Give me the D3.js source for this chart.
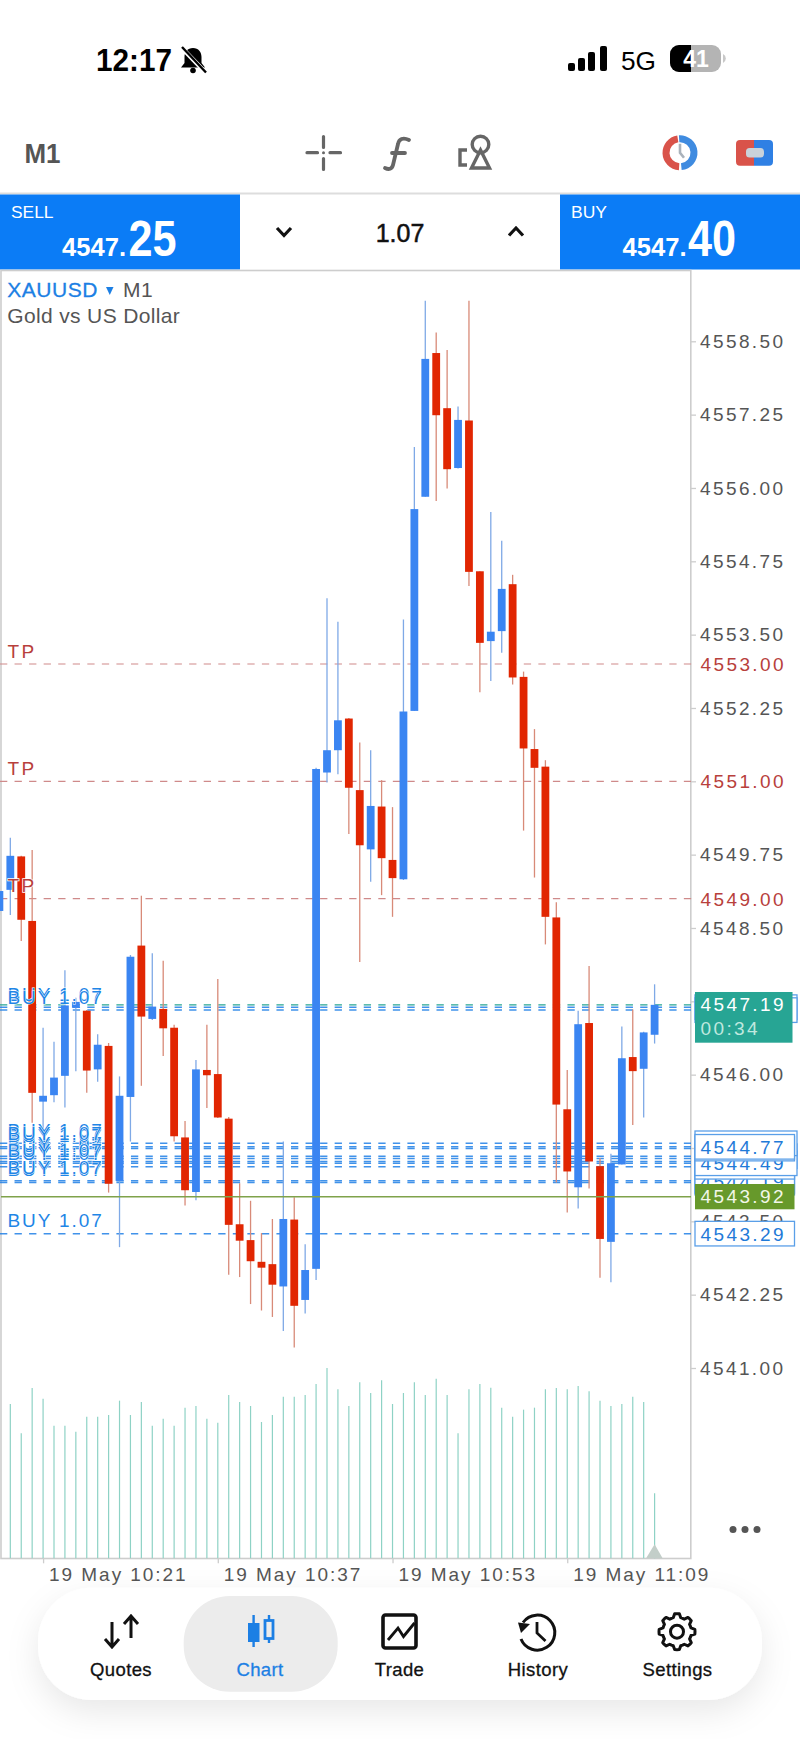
<!DOCTYPE html>
<html>
<head>
<meta charset="utf-8">
<script src="https://cdn.jsdelivr.net/npm/d3@7"></script>
<style>
  html, body { margin: 0; padding: 0; background: #fff; }
  svg { display: block; font-family: "Liberation Sans", Arial, sans-serif; }
</style>
</head>
<body>
<svg width="800" height="1739"></svg>
<script>
// candles, one per minute, 19 May 10:17 -> 11:17
const candleOpen = [
  4548.79,4549.15,4549.72,4548.62,4545.54,4545.65,4545.98,4547.14,4547.09,4546.09,
  4546.49,4544.19,4545.62,4548.20,4546.95,4547.12,4546.80,4544.93,4544.00,4546.08,
  4546.01,4545.25,4543.45,4543.18,4542.81,4542.77,4542.39,4543.53,4542.16,4542.69,
  4551.15,4551.53,4552.07,4550.85,4549.84,4550.57,4549.66,4549.33,4552.20,4555.85,
  4558.30,4557.36,4556.34,4557.15,4554.58,4553.39,4553.56,4554.36,4552.78,4551.55,
  4551.25,4548.68,4545.41,4544.08,4546.88,4544.44,4543.15,4544.47,4546.30,4546.10,
  4546.68];
const candleHigh = [
  4549.23,4550.04,4549.73,4549.83,4546.80,4546.56,4547.78,4547.31,4547.10,4546.69,
  4546.54,4545.97,4548.04,4549.05,4548.07,4547.94,4546.85,4545.21,4546.25,4546.85,
  4547.63,4545.28,4544.15,4543.85,4543.30,4543.54,4544.86,4543.91,4543.11,4551.23,
  4554.12,4553.72,4552.08,4551.66,4551.53,4551.02,4550.56,4553.76,4556.70,4559.19,
  4558.65,4558.35,4557.39,4559.19,4554.58,4555.59,4555.10,4554.52,4552.87,4551.89,
  4551.36,4548.94,4546.08,4547.09,4547.85,4544.58,4544.65,4546.82,4547.11,4546.73,
  4547.54];
const candleLow = [
  4548.72,4548.72,4548.28,4545.18,4545.06,4545.53,4545.44,4546.06,4545.69,4545.88,
  4543.99,4543.06,4544.86,4545.81,4546.93,4546.32,4544.86,4543.77,4543.86,4545.43,
  4545.26,4542.59,4542.55,4542.09,4541.98,4541.87,4541.63,4541.35,4541.93,4542.50,
  4550.98,4551.12,4550.10,4547.92,4549.29,4549.06,4548.69,4549.32,4552.20,4555.85,
  4555.78,4555.99,4556.33,4554.33,4552.52,4552.71,4553.19,4552.65,4550.16,4549.36,
  4548.22,4544.16,4543.65,4543.72,4544.06,4542.54,4542.46,4544.47,4545.14,4545.27,
  4546.53];
const candleClose = [
  4549.13,4549.73,4548.64,4545.69,4545.64,4545.95,4547.18,4547.24,4546.07,4546.51,
  4544.14,4545.64,4548.01,4546.99,4547.16,4546.79,4544.95,4544.03,4546.09,4545.99,
  4545.27,4543.44,4543.17,4542.82,4542.71,4542.42,4543.54,4542.06,4542.67,4551.21,
  4551.53,4552.04,4550.89,4549.91,4550.58,4549.69,4549.35,4552.19,4555.64,4558.20,
  4557.24,4556.32,4557.16,4554.57,4553.36,4553.55,4554.28,4552.77,4551.56,4551.23,
  4548.69,4545.49,4544.35,4546.86,4544.52,4543.20,4544.49,4546.28,4546.06,4546.72,
  4547.19];
const tickVolume = [
  450,463,375,511,479,398,398,380,425,425,
  430,473,430,469,398,419,398,452,457,419,
  407,490,469,457,409,430,485,485,490,523,
  571,507,457,528,496,534,463,496,528,490,
  539,490,375,507,523,512,452,425,446,452,
  507,511,507,517,501,473,457,463,485,469,
  195];

const priceTicks = [4558.5,4557.25,4556,4554.75,4553.5,4552.25,4551,4549.75,4548.5,4547.25,4546,4544.75,4543.5,4542.25,4541];
const timeTickIndex = [4, 20, 36, 52];
const timeTickLabels = ["19 May 10:21", "19 May 10:37", "19 May 10:53", "19 May 11:09"];

const tpLevels = [4553, 4551, 4549];
// open buy orders, the tags get painted in this order
const buyLevels = [4547.15,4547.1,4544.16,4544.19,4544.43,4544.52,4544.57,4544.61,4544.49,4544.83,4544.74,4544.77,4543.29];
const wideTags = [4547.15,4547.1,4544.49,4544.83,4544.61];
const bidPrice = 4547.19, askLine = 4543.92;

const navLabels = ["Quotes", "Chart", "Trade", "History", "Settings"];
const navCenters = [121, 260, 399.5, 538, 677.5];

const svg = d3.select("svg");
const BLUE = "#3a85f2", RED = "#e12602", GREY = "#555", APP = "#0b7cf6", LINK = "#1c7fe4";

const x = d3.scaleLinear().domain([0, 60]).range([-0.6, 654.6]);
const y = d3.scaleLinear().domain([4558.5, 4541]).range([341.3, 1368]);
const vol = d3.scaleLinear().domain([0, 571]).range([1558.3, 1368]);

const txt = (g, s, px, py, size, fill, spacing) => g.append("text")
  .attr("x", px).attr("y", py).attr("font-size", size).attr("fill", fill)
  .style("letter-spacing", spacing ? spacing + "px" : null).text(s);

// ---- status bar
const status = svg.append("g");
txt(status, "12:17", 96, 70.5, 31, "#000").attr("font-weight", 700).attr("textLength", 76).attr("lengthAdjust", "spacingAndGlyphs");
status.append("path").attr("d", "M193 48c-5.5 0-8.5 4-8.5 9v6l-3.5 4.5h24l-3.5-4.5v-6c0-5-3-9-8.5-9z").attr("fill", "#000");
status.append("circle").attr("cx", 193).attr("cy", 70.5).attr("r", 2.8).attr("fill", "#000");
status.append("line").attr("x1", 181).attr("y1", 47).attr("x2", 206).attr("y2", 73).attr("stroke", "#fff").attr("stroke-width", 4.5);
status.append("line").attr("x1", 182).attr("y1", 47).attr("x2", 206).attr("y2", 72.5).attr("stroke", "#000").attr("stroke-width", 2.4);
[[568, 8], [578, 13], [588, 19], [600, 25]].forEach(b => {
  status.append("rect").attr("x", b[0]).attr("y", 71 - b[1]).attr("width", 7).attr("height", b[1]).attr("rx", 2).attr("fill", "#000");
});
txt(status, "5G", 621, 70, 25, "#000").attr("textLength", 35).attr("lengthAdjust", "spacingAndGlyphs");
status.append("rect").attr("x", 670).attr("y", 45).attr("width", 51).attr("height", 27).attr("rx", 9).attr("fill", "#b4b4b4");
status.append("path").attr("d", "M679 45h12v27h-12a9 9 0 0 1-9-9v-9a9 9 0 0 1 9-9z").attr("fill", "#000");
status.append("path").attr("d", "M723 54a5 5 0 0 1 0 9z").attr("fill", "#c8c8c8");
txt(status, "41", 696, 67, 23, "#fff").attr("font-weight", 700).attr("text-anchor", "middle");

// ---- toolbar
const bar = svg.append("g");
txt(bar, "M1", 24.5, 162.5, 28, GREY).attr("font-weight", 700).attr("textLength", 36).attr("lengthAdjust", "spacingAndGlyphs");
const ICON = "#666";
bar.append("path").attr("fill", "none").attr("stroke", ICON).attr("stroke-width", 3.2).attr("stroke-linecap", "round")
  .attr("d", "M323.5 136.5v11M323.5 158.5v11M307 152.7h10.5M330 152.7h10.5");
bar.append("circle").attr("cx", 323.5).attr("cy", 152.7).attr("r", 1.5).attr("fill", ICON);
bar.append("path").attr("fill", "none").attr("stroke", ICON).attr("stroke-width", 3.8).attr("stroke-linecap", "round")
  .attr("d", "M409 140c-6-3-10-1-11 4l-5 21c-1 4-4 5-8 3M392 153h13");
bar.append("circle").attr("cx", 480.5).attr("cy", 144.5).attr("r", 8.3).attr("fill", "none").attr("stroke", ICON).attr("stroke-width", 3.4);
bar.append("path").attr("fill", "none").attr("stroke", ICON).attr("stroke-width", 3.4).attr("d", "M480.5 150l9 18h-18zM467 150h-7v15h7");
const clock = bar.append("g").attr("transform", "translate(680,152.7)");
const ring = d3.arc().innerRadius(10.5).outerRadius(17.5);
clock.append("path").attr("fill", "#d9534a").attr("d", ring({startAngle: Math.PI * 1.02, endAngle: Math.PI * 1.95}));
clock.append("path").attr("fill", "#3f8be0").attr("d", ring({startAngle: -Math.PI * 0.02, endAngle: Math.PI * 0.97}));
clock.append("path").attr("fill", "none").attr("stroke", "#aab2bb").attr("stroke-width", 2.6).attr("d", "M0-9v9l4 5");
bar.append("path").attr("fill", "#d9534a").attr("d", "M740 140h14v25.7h-14a4 4 0 0 1-4-4v-17.7a4 4 0 0 1 4-4z");
bar.append("path").attr("fill", "#2f80e4").attr("d", "M754 140h15a4 4 0 0 1 4 4v17.7a4 4 0 0 1-4 4h-15z");
bar.append("rect").attr("x", 746).attr("y", 148).attr("width", 18).attr("height", 9.5).attr("rx", 3.5).attr("fill", "#c9d2da");

// ---- sell / lot / buy strip
const strip = svg.append("g");
strip.append("rect").attr("x", 0).attr("y", 192.5).attr("width", 800).attr("height", 2).attr("fill", "#ddd");
strip.append("rect").attr("x", 0).attr("y", 194.5).attr("width", 240).attr("height", 75).attr("fill", APP);
strip.append("rect").attr("x", 560).attr("y", 194.5).attr("width", 240).attr("height", 75).attr("fill", APP);
[["SELL", "4547.", "25", 11, 62, 128.5, 42.5], ["BUY", "4547.", "40", 571, 622.5, 688, 36]].forEach(p => {
  txt(strip, p[0], p[3], 217.5, 17, "#fff").attr("textLength", p[6]).attr("lengthAdjust", "spacingAndGlyphs");
  txt(strip, p[1], p[4], 256, 26, "#fff").attr("font-weight", 700).attr("textLength", 64).attr("lengthAdjust", "spacingAndGlyphs");
  txt(strip, p[2], p[5], 256, 50, "#fff").attr("font-weight", 700).attr("textLength", 48).attr("lengthAdjust", "spacingAndGlyphs");
});
strip.append("path").attr("fill", "none").attr("stroke", "#111").attr("stroke-width", 3.2)
  .attr("d", "M277 228l7 7.5 7-7.5M509 235.5l7-7.5 7 7.5");
txt(strip, "1.07", 400, 242, 25, "#111").attr("text-anchor", "middle").attr("stroke", "#111").attr("stroke-width", 0.5);

// ---- plot frame
svg.append("rect").attr("x", 1).attr("y", 270.5).attr("width", 689.8).attr("height", 1288)
  .attr("fill", "#fff").attr("stroke", "#cdcdcd").attr("stroke-width", 1.6);

// order and take profit lines go under the candles
const lines = svg.append("g").attr("fill", "none");
lines.selectAll(".tp").data(tpLevels).join("line").attr("class", "tp")
  .attr("x1", 0).attr("x2", 695).attr("y1", d => y(d)).attr("y2", d => y(d))
  .attr("stroke", "#cf8a8a").attr("stroke-width", 1.2).attr("stroke-dasharray", "7.3 7.25");
lines.selectAll(".buy").data(buyLevels).join("line").attr("class", "buy")
  .attr("x1", 0).attr("x2", 691).attr("y1", d => y(d)).attr("y2", d => y(d))
  .attr("stroke", "#1f7fe6").attr("stroke-opacity", 0.85).attr("stroke-width", 1.5).attr("stroke-dasharray", "7.3 7.25");
lines.append("line").attr("x1", 0).attr("x2", 691).attr("y1", y(bidPrice)).attr("y2", y(bidPrice))
  .attr("stroke", "#27a594").attr("stroke-width", 1.2).attr("stroke-dasharray", "7.3 7.25");

// volume
svg.append("g").selectAll("line").data(tickVolume).join("line")
  .attr("x1", (d, i) => x(i)).attr("x2", (d, i) => x(i))
  .attr("y1", vol(0)).attr("y2", d => vol(d))
  .attr("stroke", "#8ed2c5").attr("stroke-width", 1.2);

// candles
const candles = svg.append("g").selectAll("g").data(candleOpen).join("g");
const isUp = i => candleClose[i] >= candleOpen[i];
candles.append("line")
  .attr("x1", (d, i) => x(i)).attr("x2", (d, i) => x(i))
  .attr("y1", (d, i) => y(candleHigh[i])).attr("y2", (d, i) => y(candleLow[i]))
  .attr("stroke", (d, i) => isUp(i) ? "#7fa9e6" : "#d88a78").attr("stroke-width", 1.3);
candles.append("rect")
  .attr("x", (d, i) => x(i) - 3.9).attr("width", 7.8)
  .attr("y", (d, i) => y(Math.max(candleOpen[i], candleClose[i])))
  .attr("height", (d, i) => Math.abs(y(candleOpen[i]) - y(candleClose[i])))
  .attr("fill", (d, i) => isUp(i) ? BLUE : RED);

// ask line sits on top of the candles
svg.append("line").attr("x1", 1).attr("x2", 691).attr("y1", y(askLine)).attr("y2", y(askLine))
  .attr("stroke", "#7fa24a").attr("stroke-width", 1.4);

// left labels
const halo = (sel, w) => sel.attr("stroke", "#fff").attr("stroke-width", w).style("paint-order", "stroke");
const left = svg.append("g").attr("font-size", 19);
left.selectAll(".tpl").data(tpLevels).join("text").attr("class", "tpl")
  .attr("x", 7.5).attr("y", d => y(d) - 6.3).attr("fill", "#b8403c").style("letter-spacing", "2.4px").text("TP").call(halo, 1.6);
left.selectAll(".buyl").data(buyLevels).join("text").attr("class", "buyl")
  .attr("x", 7.5).attr("y", d => y(d) - 6.6).attr("fill", "#1f86e6").style("letter-spacing", "1.9px").text("BUY 1.07").call(halo, 0.9);

txt(svg, "XAUUSD", 7.3, 296.7, 21, LINK, 0.5).attr("stroke", LINK).attr("stroke-width", 0.3);
svg.append("path").attr("d", "M106 287h7.5l-3.75 8z").attr("fill", LINK);
txt(svg, "M1", 123, 296.7, 21, GREY, 0.5);
txt(svg, "Gold vs US Dollar", 7.3, 323.3, 21, GREY, 0.35);

// price axis
const priceAxis = d3.axisRight(y).tickValues(priceTicks).tickSize(5).tickPadding(4).tickFormat(d3.format(".2f"));
const pa = svg.append("g").attr("transform", "translate(691,0)").call(priceAxis);
pa.select(".domain").remove();
pa.selectAll("line").attr("stroke", "#cdcdcd").attr("stroke-width", 1.3);
pa.selectAll("text").attr("font-size", 19).attr("font-family", "Liberation Sans").attr("fill", GREY).style("letter-spacing", "2.4px");

// time axis
const timeAxis = d3.axisBottom(x).tickValues(timeTickIndex).tickSize(5).tickFormat((d, i) => timeTickLabels[i]);
const ta = svg.append("g").attr("transform", "translate(0,1558.3)").call(timeAxis);
ta.select(".domain").remove();
ta.selectAll("line").attr("stroke", "#cdcdcd").attr("stroke-width", 1.3);
ta.selectAll("text").attr("font-size", 19).attr("font-family", "Liberation Sans").attr("fill", GREY)
  .attr("text-anchor", "start").attr("x", 5.5).attr("y", 22.5).attr("dy", 0).style("letter-spacing", "1.95px");

// price tags on the right
const tags = svg.append("g");
tpLevels.forEach(v => {
  tags.append("rect").attr("x", 697).attr("y", y(v) - 11).attr("width", 98).attr("height", 22).attr("fill", "#fff");
  txt(tags, d3.format(".2f")(v), 700.5, y(v) + 7, 19, "#b8403c", 2.4);
});
buyLevels.forEach(v => {
  tags.append("rect").attr("x", 695).attr("y", y(v) - 12.3).attr("width", wideTags.includes(v) ? 102 : 99.5).attr("height", 24.6)
    .attr("fill", "#fff").attr("stroke", "#5a9fe8").attr("stroke-width", 1.3);
  txt(tags, d3.format(".2f")(v), 700.5, y(v) + 7, 19, "#1f7ad8", 2.4);
});
tags.append("rect").attr("x", 695).attr("y", 992).attr("width", 97.5).attr("height", 50.7).attr("fill", "#27a594");
txt(tags, d3.format(".2f")(bidPrice), 700.5, 1011.3, 19, "#fff", 2.4);
txt(tags, "00:34", 700.5, 1035, 19, "#bfe8df", 2.4);
tags.append("rect").attr("x", 695).attr("y", 1184).attr("width", 99.5).attr("height", 25.3).attr("fill", "#67992b");
txt(tags, d3.format(".2f")(askLine), 700.5, 1203.3, 19, "#f2f7e8", 2.4);

// small marker + menu dots
svg.append("path").attr("d", "M654.6 1544.3l8 14h-16.5z").attr("fill", "#c3cec9");
[733, 745, 757].forEach(cx => svg.append("circle").attr("cx", cx).attr("cy", 1529.5).attr("r", 3.5).attr("fill", GREY));

// ---- bottom nav
const defs = svg.append("defs");
defs.append("filter").attr("id", "soft").attr("x", "-20%").attr("y", "-30%").attr("width", "140%").attr("height", "170%")
  .append("feDropShadow").attr("dx", 0).attr("dy", 12).attr("stdDeviation", 16).attr("flood-color", "#000").attr("flood-opacity", 0.09);
const nav = svg.append("g");
nav.append("rect").attr("x", 38).attr("y", 1587.7).attr("width", 724).attr("height", 112.3).attr("rx", 54)
  .attr("fill", "#fff").attr("filter", "url(#soft)");
nav.append("rect").attr("x", 183.7).attr("y", 1596).attr("width", 154).attr("height", 95.7).attr("rx", 46).attr("fill", "#ececec");
navLabels.forEach((s, i) => {
  txt(nav, s, navCenters[i], 1676, 18.5, i === 1 ? LINK : "#111", 0.4).attr("text-anchor", "middle")
    .attr("stroke", i === 1 ? LINK : "#111").attr("stroke-width", 0.3);
});
const stroke = (d, w, c) => nav.append("path").attr("d", d).attr("fill", "none").attr("stroke", c || "#111").attr("stroke-width", w);
// quotes
stroke("M112 1622v24M105 1639l7 8 7-8M131 1616v22M124 1624l7-8 7 8", 3);
// chart
stroke("M253.6 1615v32", 2.4, LINK);
nav.append("rect").attr("x", 248).attr("y", 1623).attr("width", 11.5).attr("height", 19).attr("fill", LINK);
stroke("M269 1615v5M269 1639v4", 2.4, LINK);
nav.append("rect").attr("x", 265).attr("y", 1620.5).attr("width", 8).attr("height", 18).attr("fill", "#ececec").attr("stroke", LINK).attr("stroke-width", 2.8);
// trade
nav.append("rect").attr("x", 383).attr("y", 1615).attr("width", 33).attr("height", 33).attr("rx", 2.5).attr("fill", "#fff").attr("stroke", "#111").attr("stroke-width", 3.6);
stroke("M388 1640l10-12 5.5 8.5 11-13.5", 2.8);
// history
stroke("M523 1622.5A17.5 17.5 0 1 1 521 1639", 3);
nav.append("path").attr("d", "M518 1622.5l12 1.5-9 9z").attr("fill", "#111");
stroke("M537 1622v11l8.5 8", 2.8);
// settings, gear outline
const gearPts = d3.range(48).map(i => {
  const a = i / 48 * 2 * Math.PI, p = (i + 1.5) % 6;
  const r = p < 3 ? 18 : 14.5;
  return [r * Math.sin(a), -r * Math.cos(a)];
});
const gear = nav.append("g").attr("transform", "translate(677,1631.7)");
gear.append("path").attr("d", d3.line().curve(d3.curveLinearClosed)(gearPts)).attr("fill", "#fff").attr("stroke", "#111").attr("stroke-width", 3).attr("stroke-linejoin", "round");
gear.append("circle").attr("r", 6.5).attr("fill", "#fff").attr("stroke", "#111").attr("stroke-width", 3);
</script>
</body>
</html>
